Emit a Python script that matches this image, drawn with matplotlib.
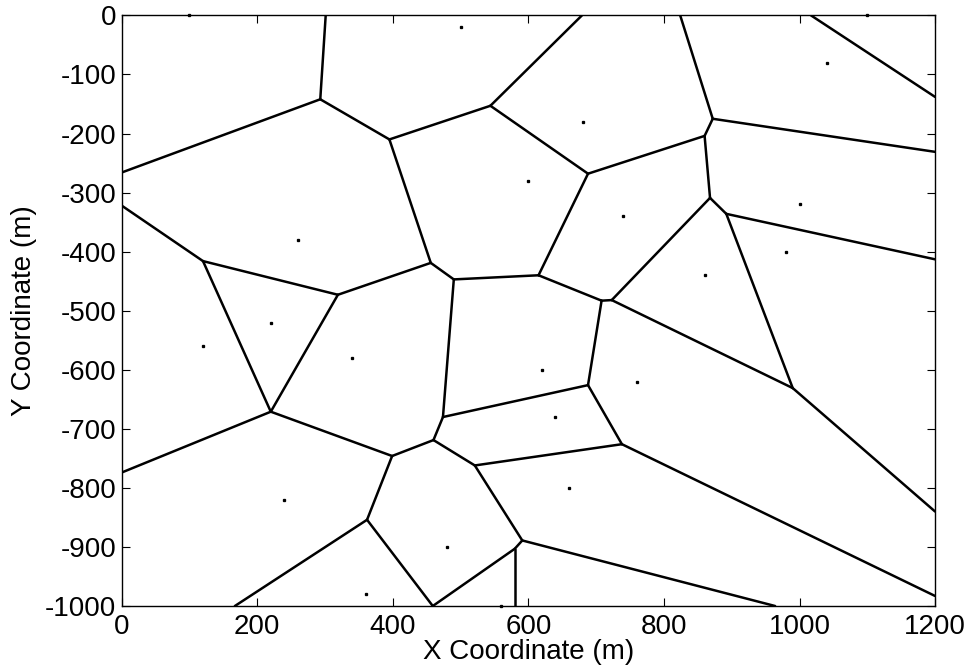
import matplotlib
matplotlib.use("Agg")
import matplotlib.pyplot as plt

plt.rcParams['font.family'] = ['Liberation Sans', 'DejaVu Sans']
plt.rcParams['axes.unicode_minus'] = False

# seed points (m)
seed_x = [100, 500, 1040, 1100, 680, 600, 740, 1000, 980, 860, 260,
          220, 120, 340, 240, 480, 360, 560, 620, 760, 640, 660]
seed_y = [0, -20, -80, 0, -180, -280, -340, -320, -400, -440, -380,
          -520, -560, -580, -820, -900, -980, -1000, -600, -620, -680, -800]

# Voronoi vertices (m)
vert_x = [301, 293, 0, 395, 544, 0, 120, 319, 456, 490,
          679, 872, 824, 860, 1200, 1017, 1200, 688, 868, 892,
          1200, 615, 708, 723, 990, 1200, 688, 738, 1200, 591,
          964, 580, 580, 459, 220, 0, 399, 460, 474, 521,
          362, 167]
vert_y = [0, -142, -266, -210, -153, -322, -416, -473, -419, -447,
          0, -175, 0, -204, -231, 0, -138, -268, -309, -336,
          -413, -440, -483, -482, -631, -840, -626, -726, -983, -889,
          -1000, -903, -1000, -1000, -671, -774, -746, -719, -680, -762,
          -854, -1000]

# edges as vertex index pairs
edges = [(0, 1), (1, 2), (1, 3), (3, 4), (4, 10), (3, 8), (5, 6), (6, 7),
         (7, 8), (8, 9), (6, 34), (7, 34), (34, 35), (34, 36), (36, 37),
         (37, 38), (38, 9), (37, 39), (36, 40), (40, 41), (40, 33), (33, 31),
         (31, 32), (31, 29), (29, 39), (29, 30), (39, 27), (38, 26), (26, 27),
         (27, 28), (26, 22), (22, 23), (22, 21), (21, 9), (21, 17), (17, 4),
         (17, 13), (13, 11), (11, 12), (11, 14), (15, 16), (13, 18), (18, 19),
         (18, 23), (19, 20), (19, 24), (23, 24), (24, 25)]

fig = plt.figure(figsize=(9.71, 6.70), dpi=100)
ax = fig.add_axes([0.1253, 0.0955, 0.8377, 0.8815])

for a, b in edges:
    ax.plot([vert_x[a], vert_x[b]], [vert_y[a], vert_y[b]], color='black', lw=1.8,
            solid_capstyle='round')

ax.plot(seed_x, seed_y, linestyle='none', marker='s', markersize=1.4,
        color='black', clip_on=False)

ax.set_xlim(0, 1200)
ax.set_ylim(-1000, 0)
ax.set_xticks(range(0, 1201, 200))
ax.set_yticks(range(-1000, 1, 100))
ax.tick_params(direction='in', length=6, width=0.8, labelsize=20,
               top=True, right=True, pad=4)
ax.tick_params(axis='x', pad=6)
for s in ax.spines.values():
    s.set_linewidth(1.0)

ax.set_xlabel('X Coordinate (m)', fontsize=20, labelpad=-1)
ax.set_ylabel('Y Coordinate (m)', fontsize=20, labelpad=6)

fig.savefig('out.png', dpi=100)
